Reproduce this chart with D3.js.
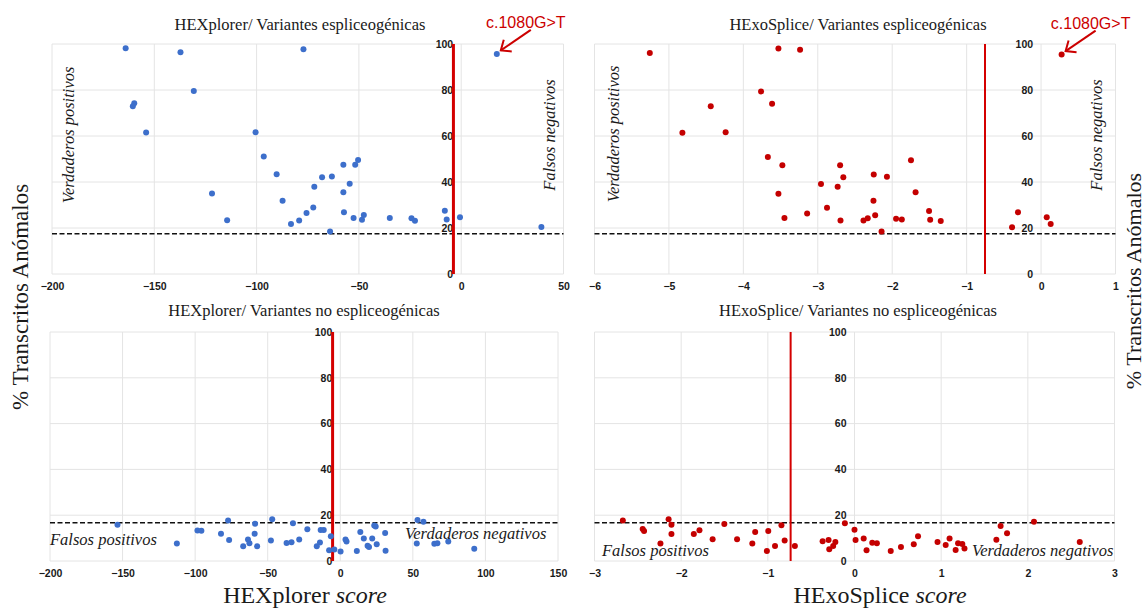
<!DOCTYPE html>
<html><head><meta charset="utf-8">
<script src="https://cdn.jsdelivr.net/npm/d3@7"></script>
<style>body{margin:0;background:#fff}</style>
</head><body><svg id="c" width="1146" height="608"></svg>
<script>
// ---------- DATA ----------
const yTicks = [0, 20, 40, 60, 80, 100];
const hexplorerTopTicks = [-200, -150, -100, -50, 0, 50];
const hexplorerBottomTicks = [-200, -150, -100, -50, 0, 50, 100, 150];
const hexosplicTopTicks = [-6, -5, -4, -3, -2, -1, 0, 1];
const hexosplicBottomTicks = [-3, -2, -1, 0, 1, 2, 3];

const titles = [
  "HEXplorer/ Variantes espliceogénicas",
  "HExoSplice/ Variantes espliceogénicas",
  "HEXplorer/ Variantes no espliceogénicas",
  "HExoSplice/ Variantes no espliceogénicas"
];

// HEXplorer / spliceogenic
const hexplorerSplicX = [-164.0,-137.2,-77.1,-130.7,-159.8,-160.5,-154.0,-100.5,-96.5,-90.2,-121.8,-114.4,-87.3,-83.2,-79.2,-75.6,-72.3,-71.8,-68.0,-63.2,-64.1,-57.6,-57.6,-57.3,-54.5,-52.6,-51.8,-50.4,-48.5,-47.6,-34.9,-24.3,-22.6,-8.0,-7.1,-0.6,17.4,39.2];
const hexplorerSplicY = [98.1,96.4,97.7,79.6,74.2,72.9,61.5,61.6,51.1,43.4,35.0,23.4,31.8,21.7,23.3,26.5,28.9,37.9,42.1,42.4,18.5,47.5,35.5,26.8,39.2,24.3,47.5,49.6,23.6,25.6,24.3,24.2,23.2,27.5,23.7,24.7,95.7,20.4];

// HExoSplice / spliceogenic
const hexosplicSplicX = [-5.257,-3.529,-3.238,-3.762,-4.438,-3.614,-4.819,-4.238,-3.671,-3.476,-3.529,-3.448,-3.143,-2.957,-2.876,-2.733,-2.700,-2.657,-2.695,-2.386,-2.329,-2.252,-2.248,-2.229,-2.143,-2.071,-1.948,-1.871,-1.748,-1.686,-1.505,-1.490,-1.348,-0.390,-0.310,0.076,0.129,0.276];
const hexosplicSplicY = [96.1,98.0,97.5,79.4,72.9,74.0,61.4,61.6,50.9,47.3,34.9,24.3,26.3,39.1,28.8,37.9,47.3,42.1,23.3,23.3,24.2,31.8,43.3,25.5,18.5,42.3,24.0,23.7,49.5,35.5,27.4,23.6,23.0,20.3,26.8,24.7,21.7,95.4];

// HEXplorer / non-spliceogenic
const hexplorerNoX = [-153.5,-112.6,-98.4,-95.7,-82.2,-77.3,-76.6,-66.9,-63.6,-62.6,-58.7,-59.0,-57.3,-47.8,-46.9,-37.0,-33.6,-32.6,-28.3,-22.7,-16.2,-14.0,-13.5,-11.4,-6.5,-7.7,-4.1,0.2,3.6,4.3,11.4,13.8,16.2,18.8,19.8,22.0,23.4,24.4,25.1,30.9,31.2,52.7,53.2,57.3,64.8,66.9,74.4,92.3];
const hexplorerNoY = [15.8,7.6,13.3,13.2,11.9,17.7,9.2,6.4,9.4,7.8,16.3,11.9,6.4,8.9,18.2,7.9,8.2,16.5,9.4,13.9,6.4,8.1,13.5,13.5,10.8,4.7,5.0,4.2,9.4,8.5,4.4,12.7,9.8,6.7,6.1,9.8,15.5,15.1,7.3,12.2,4.5,7.6,17.9,17.1,7.5,7.8,8.5,5.4];

// HExoSplice / non-spliceogenic
const hexosplicNoX = [-2.673,-2.444,-2.428,-2.239,-2.145,-2.112,-2.112,-1.854,-1.789,-1.637,-1.502,-1.355,-1.179,-1.146,-1.011,-0.995,-0.917,-0.843,-0.806,-0.688,-0.368,-0.299,-0.291,-0.246,-0.221,-0.111,0.000,0.012,0.106,0.139,0.205,0.258,0.418,0.536,0.684,0.733,0.958,1.052,1.097,1.167,1.195,1.244,1.269,1.637,1.686,1.760,2.071,2.599];
const hexosplicNoY = [17.7,14.0,13.1,7.6,18.2,15.8,11.8,11.8,13.4,9.5,16.2,9.5,7.6,12.7,4.4,13.1,6.6,15.6,8.9,6.6,8.6,9.2,5.1,6.6,8.3,16.5,13.6,9.2,9.8,4.7,8.0,7.7,4.4,6.1,7.3,10.8,8.3,7.0,9.8,4.8,7.7,7.4,5.5,9.3,15.3,12.1,17.1,8.3];

// thresholds
const hexplorerCutoffs = [-3.8, -5.3];      // red vertical line (top, bottom)
const hexosplicCutoffs = [-0.753, -0.737];
const anomalousThresholds = [17.5, 16.7];   // dashed line (top, bottom)
const annotationText = "c.1080G>T";
const annotatedIndex = [36, 37];            // point labelled in top panels

// ---------- DRAW ----------
const svg = d3.select("#c");
const BLUE = "#3d6fcb", RED = "#c40000", LINE_RED = "#d40000";
const tickFont = "'Liberation Sans', Arial, sans-serif";
const serif = "'Liberation Serif', 'Times New Roman', serif";

const panels = [
  {title: titles[0], xs: hexplorerSplicX, ys: hexplorerSplicY, ticks: hexplorerTopTicks, cut: hexplorerCutoffs[0], thr: anomalousThresholds[0],
   color: BLUE, box: [52, 563.5, 44, 274], lw: 3, titleX: 300, titleY: 30, ann: annotatedIndex[0],
   labels: [{t: "Verdaderos positivos", x: 68, y: 135, r: true}, {t: "Falsos negativos", x: 549, y: 135, r: true}]},
  {title: titles[1], xs: hexosplicSplicX, ys: hexosplicSplicY, ticks: hexosplicTopTicks, cut: hexosplicCutoffs[0], thr: anomalousThresholds[0],
   color: RED, box: [594.5, 1115.5, 44, 274], lw: 2, titleX: 858, titleY: 30, ann: annotatedIndex[1],
   labels: [{t: "Verdaderos positivos", x: 613, y: 134, r: true}, {t: "Falsos negativos", x: 1096, y: 135, r: true}]},
  {title: titles[2], xs: hexplorerNoX, ys: hexplorerNoY, ticks: hexplorerBottomTicks, cut: hexplorerCutoffs[1], thr: anomalousThresholds[1],
   color: BLUE, box: [50, 558, 332, 561], lw: 3, titleX: 304, titleY: 316, ann: -1,
   labels: [{t: "Falsos positivos", x: 50, y: 545, r: false}, {t: "Verdaderos negativos", x: 405, y: 539, r: false}]},
  {title: titles[3], xs: hexosplicNoX, ys: hexosplicNoY, ticks: hexosplicBottomTicks, cut: hexosplicCutoffs[1], thr: anomalousThresholds[1],
   color: RED, box: [594.5, 1114.5, 332, 561], lw: 2, titleX: 858, titleY: 316, ann: -1,
   labels: [{t: "Falsos positivos", x: 602, y: 556, r: false}, {t: "Verdaderos negativos", x: 972, y: 556, r: false}]}
];

panels.forEach(p => {
  const [x0, x1, y0, y1] = p.box;
  const x = d3.scaleLinear().domain([p.ticks[0], p.ticks[p.ticks.length - 1]]).range([x0, x1]);
  const y = d3.scaleLinear().domain([0, 100]).range([y1, y0]);
  const g = svg.append("g");

  // grid
  g.append("g").selectAll("line").data(p.ticks).join("line")
    .attr("x1", d => x(d)).attr("x2", d => x(d)).attr("y1", y0).attr("y2", y1)
    .attr("stroke", "#e4e4e4").attr("stroke-width", 1);
  g.append("g").selectAll("line").data(yTicks).join("line")
    .attr("x1", x0).attr("x2", x1).attr("y1", d => y(d)).attr("y2", d => y(d))
    .attr("stroke", "#e4e4e4").attr("stroke-width", 1);

  // axes labels
  const ax = g.append("g").attr("transform", `translate(0,${y1})`)
    .call(d3.axisBottom(x).tickValues(p.ticks).tickSize(0).tickPadding(9).tickFormat(d3.format("d")));
  ax.select(".domain").remove();
  ax.selectAll("text").attr("font-family", tickFont).attr("font-size", 10.5).attr("font-weight", "bold").attr("fill", "#1a1a1a");

  const ay = g.append("g").attr("transform", `translate(${x(0)},0)`)
    .call(d3.axisLeft(y).tickValues(yTicks).tickSize(0).tickPadding(8));
  ay.select(".domain").remove();
  ay.selectAll("text").attr("font-family", tickFont).attr("font-size", 10.5).attr("font-weight", "bold").attr("fill", "#1a1a1a");

  // dashed threshold
  g.append("line").attr("x1", x0).attr("x2", x1).attr("y1", y(p.thr)).attr("y2", y(p.thr))
    .attr("stroke", "#111").attr("stroke-width", 1.6).attr("stroke-dasharray", "5,2.5");

  // cutoff red line
  g.append("line").attr("x1", x(p.cut)).attr("x2", x(p.cut)).attr("y1", y(100)).attr("y2", y(0))
    .attr("stroke", LINE_RED).attr("stroke-width", p.lw);

  // points
  const pts = p.xs.map((v, i) => [v, p.ys[i]]);
  g.append("g").selectAll("circle").data(pts).join("circle")
    .attr("cx", d => x(d[0])).attr("cy", d => y(d[1])).attr("r", 3)
    .attr("fill", p.color);

  // title
  g.append("text").attr("x", p.titleX).attr("y", p.titleY).attr("text-anchor", "middle")
    .attr("font-family", serif).attr("font-size", 16.5).attr("fill", "#1a1a1a").text(p.title);

  // region labels
  p.labels.forEach(l => {
    const t = g.append("text").attr("font-family", serif).attr("font-style", "italic")
      .attr("font-size", 16.5).attr("fill", "#1a1a1a").text(l.t);
    if (l.r) {
      t.attr("transform", `translate(${l.x},${l.y}) rotate(-90)`).attr("text-anchor", "middle")
        .attr("dominant-baseline", "central");
    } else {
      t.attr("x", l.x).attr("y", l.y);
    }
  });

  // annotation
  if (p.ann >= 0) {
    const px = x(p.xs[p.ann]), py = y(p.ys[p.ann]);
    const tip = [px + 4, py - 3.5], tail = [px + 34, py - 24];
    g.append("text").attr("x", px + 29).attr("y", py - 26).attr("text-anchor", "middle")
      .attr("font-family", tickFont).attr("font-size", 16).attr("fill", "#cc0000").text(annotationText);
    g.append("line").attr("x1", tail[0]).attr("y1", tail[1]).attr("x2", tip[0]).attr("y2", tip[1])
      .attr("stroke", "#cc0000").attr("stroke-width", 2);
    const ang = Math.atan2(tail[1] - tip[1], tail[0] - tip[0]);
    const L = 11, a = 40 * Math.PI / 180;
    const w1 = [tip[0] + L * Math.cos(ang - a), tip[1] + L * Math.sin(ang - a)];
    const w2 = [tip[0] + L * Math.cos(ang + a), tip[1] + L * Math.sin(ang + a)];
    g.append("path").attr("d", `M${w1[0]},${w1[1]}L${tip[0]},${tip[1]}L${w2[0]},${w2[1]}`)
      .attr("fill", "none").attr("stroke", "#cc0000").attr("stroke-width", 2);
  }
});

// axis titles
const yTitle = "% Transcritos Anómalos";
svg.append("text").attr("transform", "translate(20,297) rotate(-90)").attr("text-anchor", "middle")
  .attr("dominant-baseline", "central").attr("font-family", serif).attr("font-size", 23).attr("fill", "#1a1a1a").text(yTitle);
svg.append("text").attr("transform", "translate(1133,281) rotate(-90)").attr("text-anchor", "middle")
  .attr("dominant-baseline", "central").attr("font-family", serif).attr("font-size", 22).attr("fill", "#1a1a1a").text(yTitle);

[["HEXplorer ", 305], ["HExoSplice ", 880]].forEach(([name, cx]) => {
  const t = svg.append("text").attr("x", cx).attr("y", 603).attr("text-anchor", "middle")
    .attr("font-family", serif).attr("font-size", 24).attr("fill", "#1a1a1a");
  t.append("tspan").text(name);
  t.append("tspan").attr("font-style", "italic").text("score");
});
</script>
</body></html>
